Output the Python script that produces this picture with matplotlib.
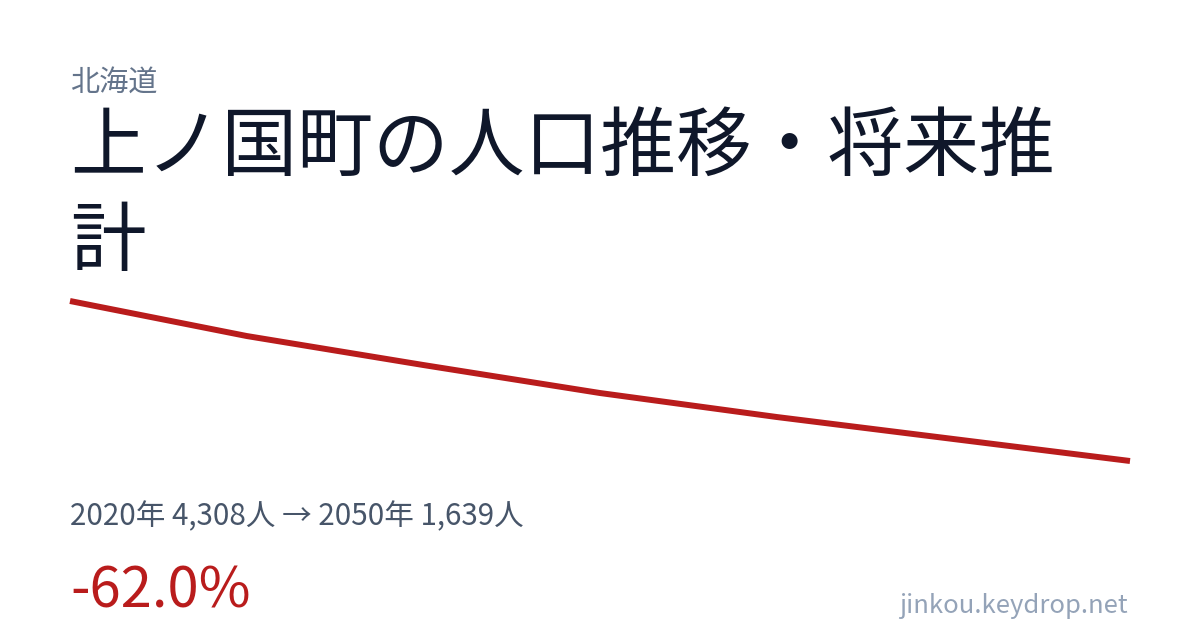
import matplotlib
matplotlib.use("Agg")
import matplotlib.pyplot as plt

years = [2020, 2025, 2030, 2035, 2040, 2045, 2050]
population = [4308, 3724, 3240, 2773, 2373, 2006, 1639]

prefecture = "北海道"
title = "上ノ国町の人口推移・将来推\n計"
summary = "2020年 4,308人 → 2050年 1,639人"
change = "-62.0%"
site = "jinkou.keydrop.net"

plt.rcParams['font.family'] = ['Noto Sans CJK JP', 'DejaVu Sans']

W, H = 1200, 630
fig = plt.figure(figsize=(W / 100, H / 100), dpi=100)
fig.patch.set_facecolor("white")

def px(x, y):
    return x / W, 1 - y / H

# line chart area
left, right, top, bottom = 70, 1130, 301, 461
ax = fig.add_axes([left / W, 1 - bottom / H, (right - left) / W, (bottom - top) / H])
ax.plot(years, population, color="#b91c1c", linewidth=4.3, solid_capstyle="butt",
        solid_joinstyle="round", clip_on=False)
ax.set_xlim(min(years), max(years))
ax.set_ylim(min(population), max(population))
ax.axis("off")

fig.text(*px(70, 91), prefecture, fontsize=21, color="#64748b", va="baseline", ha="left")
fig.text(*px(70, 265), title, fontsize=54.5, color="#0f172a", va="baseline", ha="left",
         linespacing=1.30)
fig.text(*px(70, 525), summary, fontsize=21.3, color="#475569", va="baseline", ha="left")
fig.text(*px(70, 608), change, fontsize=40.5, color="#b91c1c", va="baseline", ha="left")
fig.text(*px(1128, 613), site, fontsize=18.5, color="#94a3b8", va="baseline", ha="right")

fig.savefig("out.png", dpi=100, facecolor="white")
